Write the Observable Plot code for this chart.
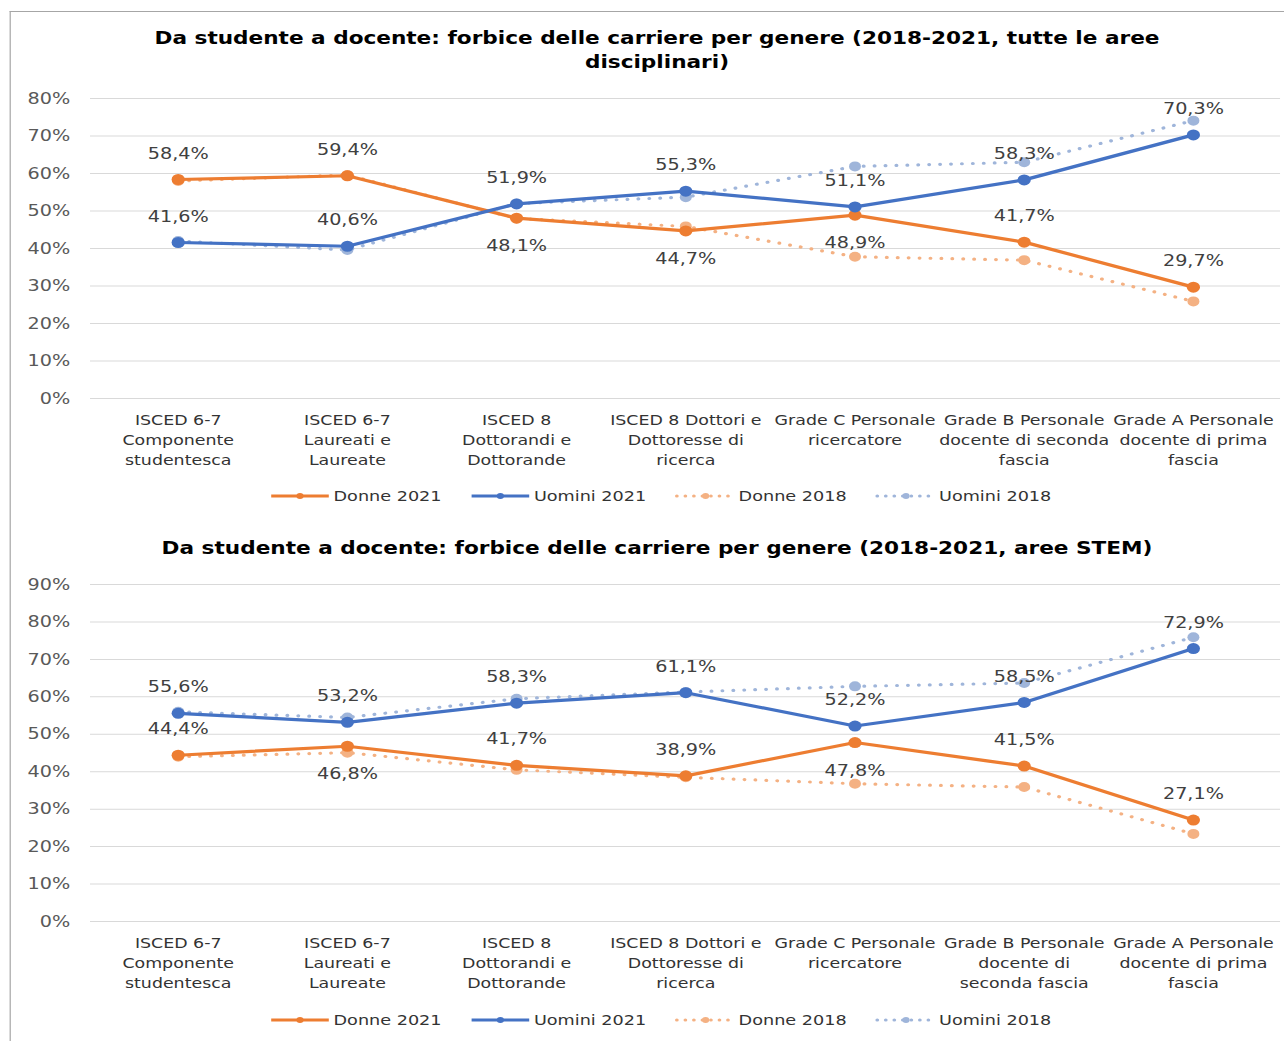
<!DOCTYPE html>
<html>
<head>
<meta charset="utf-8">
<script src="https://cdn.jsdelivr.net/npm/d3@7"></script>
<script src="https://cdn.jsdelivr.net/npm/@observablehq/plot@0.6"></script>
<style>
  html, body { margin: 0; padding: 0; background: #fff; overflow: hidden; }
  body { width: 1284px; height: 1041px; }
  #stage { position: absolute; left: 0; top: 0; width: 1070px; height: 1041px;
           transform: scale(1.2, 1); transform-origin: 0 0; font-family: "DejaVu Sans", Verdana, sans-serif; }
  .frame { position: absolute; left: 8px; top: 11px; width: 1200px; height: 1200px;
           border-left: 1.5px solid #a6a6a6; border-top: 1.5px solid #a6a6a6; }
  .title { position: absolute; left: 0; width: 1095px; text-align: center; font-weight: bold;
           font-size: 18px; line-height: 24px; color: #000; }
  .legend { position: absolute; left: 0; width: 1102px; display: flex; justify-content: center;
            gap: 25px; font-size: 14.7px; line-height: 20px; height: 20px; color: #333; }
  .legend .item { display: flex; align-items: center; gap: 4px; }
  .chart { position: absolute; left: 0; }
</style>
</head>
<body>
<div id="stage">
  <div class="frame"></div>
  <div class="title" style="top:26px">Da studente a docente: forbice delle carriere per genere (2018-2021, tutte le aree<br>disciplinari)</div>
  <div class="chart" id="c1" style="top:88px"></div>
  <div class="legend" id="l1" style="top:486px"></div>
  <div class="title" style="top:536px">Da studente a docente: forbice delle carriere per genere (2018-2021, aree STEM)</div>
  <div class="chart" id="c2" style="top:574px"></div>
  <div class="legend" id="l2" style="top:1010px"></div>
</div>
<script>
// ---- Data ----
const categoriesAll = [
  "ISCED 6-7\nComponente\nstudentesca",
  "ISCED 6-7\nLaureati e\nLaureate",
  "ISCED 8\nDottorandi e\nDottorande",
  "ISCED 8 Dottori e\nDottoresse di\nricerca",
  "Grade C Personale\nricercatore",
  "Grade B Personale\ndocente di seconda\nfascia",
  "Grade A Personale\ndocente di prima\nfascia"
];
const categoriesStem = [
  "ISCED 6-7\nComponente\nstudentesca",
  "ISCED 6-7\nLaureati e\nLaureate",
  "ISCED 8\nDottorandi e\nDottorande",
  "ISCED 8 Dottori e\nDottoresse di\nricerca",
  "Grade C Personale\nricercatore",
  "Grade B Personale\ndocente di\nseconda fascia",
  "Grade A Personale\ndocente di prima\nfascia"
];
const seriesNames = ["Donne 2021", "Uomini 2021", "Donne 2018", "Uomini 2018"];

const donne2021All  = [58.4, 59.4, 48.1, 44.7, 48.9, 41.7, 29.7];
const uomini2021All = [41.6, 40.6, 51.9, 55.3, 51.1, 58.3, 70.3];
const donne2018All  = [58.0, 59.6, 48.0, 45.9, 37.8, 36.9, 25.9];
const uomini2018All = [42.0, 39.6, 52.0, 53.7, 61.9, 63.0, 74.1];

const donne2021Stem  = [44.4, 46.8, 41.7, 38.9, 47.8, 41.5, 27.1];
const uomini2021Stem = [55.6, 53.2, 58.3, 61.1, 52.2, 58.5, 72.9];
const donne2018Stem  = [44.0, 45.1, 40.5, 38.5, 36.8, 35.9, 23.4];
const uomini2018Stem = [56.0, 54.5, 59.5, 61.3, 62.8, 63.7, 75.9];

const yTicksAll  = [0, 10, 20, 30, 40, 50, 60, 70, 80];
const yTicksStem = [0, 10, 20, 30, 40, 50, 60, 70, 80, 90];

// ---- Styles ----
const colors = {
  "Donne 2021": "#ed7d31",
  "Uomini 2021": "#4472c4",
  "Donne 2018": "#f4b183",
  "Uomini 2018": "#9fb5da"
};
const fmt = v => v.toFixed(1).replace(".", ",") + "%";

function makeChart(cats, vals, yTicks, height, marginBottom, donneBelowIdx) {
  const rows = (name, arr) => arr.map((v, i) => ({cat: cats[i], value: v, series: name, i}));
  const d21 = rows("Donne 2021", vals[0]);
  const u21 = rows("Uomini 2021", vals[1]);
  const d18 = rows("Donne 2018", vals[2]);
  const u18 = rows("Uomini 2018", vals[3]);
  const above = [...u21, ...d21.filter(d => !donneBelowIdx.includes(d.i))];
  const below = d21.filter(d => donneBelowIdx.includes(d.i));
  const dotted = {strokeWidth: 3.2, strokeDasharray: "0.1 9", strokeLinecap: "round"};
  return Plot.plot({
    width: 1070, height,
    marginTop: 10, marginBottom, marginLeft: 75, marginRight: 3.3,
    style: {fontFamily: "'DejaVu Sans', Verdana, sans-serif", background: "transparent", overflow: "visible"},
    x: {type: "point", domain: cats, padding: 0.5, label: null},
    y: {domain: [0, d3.max(yTicks)], label: null},
    marks: [
      Plot.gridY(yTicks, {stroke: "#d9d9d9", strokeOpacity: 1, strokeWidth: 1}),
      Plot.axisY(yTicks, {tickSize: 0, tickPadding: 17, tickFormat: d => d + "%", fontSize: 16, color: "#595959", label: null}),
      Plot.axisX({tickSize: 0, tickPadding: 12, fontSize: 14.5, lineHeight: 1.38, color: "#333", label: null}),
      Plot.line(d18, {x: "cat", y: "value", stroke: colors["Donne 2018"], ...dotted}),
      Plot.line(u18, {x: "cat", y: "value", stroke: colors["Uomini 2018"], ...dotted}),
      Plot.dot(d18, {x: "cat", y: "value", r: 5, fill: colors["Donne 2018"]}),
      Plot.dot(u18, {x: "cat", y: "value", r: 5, fill: colors["Uomini 2018"]}),
      Plot.line(d21, {x: "cat", y: "value", stroke: colors["Donne 2021"], strokeWidth: 3.2}),
      Plot.line(u21, {x: "cat", y: "value", stroke: colors["Uomini 2021"], strokeWidth: 3.2}),
      Plot.dot(d21, {x: "cat", y: "value", r: 5.5, fill: colors["Donne 2021"]}),
      Plot.dot(u21, {x: "cat", y: "value", r: 5.5, fill: colors["Uomini 2021"]}),
      Plot.text(above, {x: "cat", y: "value", text: d => fmt(d.value), dy: -26, fontSize: 16, fill: "#404040", lineAnchor: "middle"}),
      Plot.text(below, {x: "cat", y: "value", text: d => fmt(d.value), dy: 28, fontSize: 16, fill: "#404040", lineAnchor: "middle"})
    ]
  });
}

function makeLegend(el) {
  for (const name of seriesNames) {
    const item = document.createElement("div");
    item.className = "item";
    const dashed = name.endsWith("2018");
    const c = colors[name];
    item.innerHTML =
      `<svg width="48" height="12" style="overflow:visible">` +
      `<line x1="0" x2="48" y1="6" y2="6" stroke="${c}" stroke-width="3" ` +
      (dashed ? `stroke-dasharray="0.1 7" stroke-linecap="round"` : ``) + `></line>` +
      `<circle cx="24" cy="6" r="3" fill="${c}"></circle></svg>` +
      `<span>${name}</span>`;
    el.appendChild(item);
  }
}

document.getElementById("c1").appendChild(
  makeChart(categoriesAll, [donne2021All, uomini2021All, donne2018All, uomini2018All], yTicksAll, 392, 82, [2, 3, 4])
);
document.getElementById("c2").appendChild(
  makeChart(categoriesStem, [donne2021Stem, uomini2021Stem, donne2018Stem, uomini2018Stem], yTicksStem, 427, 80, [1, 4])
);
makeLegend(document.getElementById("l1"));
makeLegend(document.getElementById("l2"));
</script>
</body>
</html>
